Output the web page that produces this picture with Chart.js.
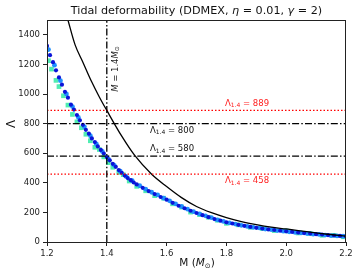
<!DOCTYPE html>
<html>
<head>
<meta charset="utf-8">
<script src="https://cdn.jsdelivr.net/npm/chart.js@4.4.1/dist/chart.umd.min.js"></script>
<style>
  html, body { margin: 0; padding: 0; background: #fff; }
  #wrap { width: 358px; height: 277px; }
</style>
</head>
<body>
<div id="wrap"><canvas id="chart"></canvas></div>
<script>
// Mass grid ticks
const xTicks = [1.2, 1.4, 1.6, 1.8, 2.0, 2.2];
const yTicks = [0, 200, 400, 600, 800, 1000, 1200, 1400];

// Band core (dark blue)
const coreMass = [1.20,1.21,1.22,1.23,1.24,1.25,1.26,1.27,1.28,1.29,1.30,1.31,1.32,1.33,1.34,1.35,1.36,1.37,1.38,1.39,1.40,1.41,1.42,1.43,1.44,1.45,1.46,1.47,1.48,1.49,1.50,1.52,1.54,1.56,1.58,1.60,1.62,1.64,1.66,1.68,1.70,1.72,1.74,1.76,1.78,1.80,1.82,1.84,1.86,1.88,1.90,1.92,1.94,1.96,1.98,2.00,2.02,2.04,2.06,2.08,2.10,2.12,2.14,2.16,2.18,2.20];
const coreLambda = [1325,1262,1215,1160,1112,1063,1015,975,928,895,858,822,792,758,732,700,675,646,622,598,574,552,528,508,486,468,449,432,418,402,389,366,344,324,304,286,265,245,228,211,196,181,168,155,144,133,125,116,109,102,96,91,85,81,76,72,68,64,60,57,53,50,47,44,41,38];

// Band, second set (light blue)
const midMass = [1.205,1.225,1.245,1.265,1.285,1.305,1.325,1.345,1.365,1.385,1.405,1.425,1.445,1.465,1.485,1.51,1.53,1.55,1.57,1.59,1.61,1.63,1.65,1.67,1.69,1.71,1.73,1.75,1.77,1.79,1.81,1.83,1.85,1.87,1.89,1.91,1.93,1.95,1.97,1.99,2.01,2.03,2.05,2.07,2.09,2.11,2.13,2.15,2.17,2.19];
const midLambda = [1300,1195,1090,1000,915,842,778,718,662,612,562,518,478,442,414,380,357,336,318,296,278,258,240,222,205,190,177,165,150,139,129,121,113,105,99,95,87,83,77,73,69,65,61,57,53,51,47,43,41,39];

// Band, outer set (aquamarine)
const outerMass = [1.205,1.215,1.23,1.24,1.255,1.27,1.285,1.30,1.315,1.33,1.345,1.36,1.375,1.39,1.405,1.42,1.44,1.455,1.475,1.50,1.53,1.56,1.59,1.62,1.65,1.68,1.71,1.74,1.77,1.80,1.84,1.88,1.92,1.96,2.00,2.04,2.08,2.12,2.16,2.19];
const outerLambda = [1225,1168,1092,1050,988,925,862,812,772,728,684,640,625,575,536,505,470,455,412,376,346,313,296,258,236,202,185,167,147,126,116,99,91,77,75,61,57,45,45,35];

// Solid black curve
const curveMass = [1.27,1.294,1.32,1.349,1.375,1.40,1.45,1.494,1.55,1.60,1.65,1.70,1.75,1.80,1.85,1.90,1.95,2.00,2.068,2.13,2.20];
const curveLambda = [1500,1332,1215,1084,980,889,715,583,458,375,300,240,198,165,138,117,100,88,70,54,40];

// Reference lines
const refMass = 1.4;
const refLambda = [800, 580];
const boundLambda = [889, 458];

const toXY = (ms, ls) => ms.map((m, i) => ({ x: m, y: ls[i] }));
const hLine = v => [{ x: 1.2, y: v }, { x: 2.2, y: v }];

const dashDot = [7, 2.2, 1.5, 2.2];
const dotted = [1.5, 2];

const datasets = [
  {
    type: 'line', data: toXY(curveMass, curveLambda), borderColor: '#000',
    borderWidth: 1.3, pointRadius: 0, tension: 0.4, cubicInterpolationMode: 'monotone', order: 1
  },
  {
    type: 'line', data: [{ x: refMass, y: 0 }, { x: refMass, y: 1500 }], borderColor: '#000',
    borderWidth: 1.3, borderDash: dashDot, pointRadius: 0, order: 0
  },
  ...refLambda.map(v => ({
    type: 'line', data: hLine(v), borderColor: '#000', borderWidth: 1.3,
    borderDash: dashDot, pointRadius: 0, order: 0
  })),
  ...boundLambda.map(v => ({
    type: 'line', data: hLine(v), borderColor: '#ff0000', borderWidth: 1.2,
    borderDash: dotted, pointRadius: 0, order: 0
  })),
  {
    type: 'scatter', data: toXY(coreMass, coreLambda), backgroundColor: '#0a14d8',
    borderWidth: 0, pointRadius: 2.1, order: 2
  },
  {
    type: 'scatter', data: toXY(midMass, midLambda), backgroundColor: '#1e8fff',
    borderWidth: 0, pointRadius: 2.4, order: 3
  },
  {
    type: 'scatter', data: toXY(outerMass, outerLambda), backgroundColor: 'rgba(60,235,170,0.9)',
    borderWidth: 0, pointRadius: 3.3, pointStyle: 'rect', order: 4
  }
];
datasets.forEach(d => { d.clip = 0; });

// draws a run of text pieces with their own fonts, centred on x
function richText(ctx, parts, x, y) {
  let total = 0;
  parts.forEach(p => { ctx.font = p.font; total += ctx.measureText(p.t).width; });
  let cx = x - total / 2;
  parts.forEach(p => {
    ctx.font = p.font;
    ctx.fillText(p.t, cx, y + (p.dy || 0));
    cx += ctx.measureText(p.t).width;
  });
}

const F = 'DejaVu Sans';
function lambdaLabel(val) {
  return [
    { t: 'Λ', font: `8.5px ${F}` },
    { t: '1.4', font: `6px ${F}`, dy: 2 },
    { t: ' = ' + val, font: `8.5px ${F}` }
  ];
}

const decorations = {
  id: 'decorations',
  afterDraw(chart) {
    const { ctx, chartArea: a, scales: { x, y } } = chart;
    ctx.save();
    ctx.strokeStyle = '#222';
    ctx.lineWidth = 1;
    ctx.strokeRect(a.left + 0.5, a.top + 0.5, a.right - a.left - 1, a.bottom - a.top);

    ctx.textBaseline = 'middle';
    ctx.textAlign = 'left';
    ctx.fillStyle = '#111';
    // title
    richText(ctx, [
      { t: 'Tidal deformability (DDMEX, ', font: `11.2px ${F}` },
      { t: 'η', font: `italic 11.2px ${F}` },
      { t: ' = 0.01, ', font: `11.2px ${F}` },
      { t: 'γ', font: `italic 11.2px ${F}` },
      { t: ' = 2)', font: `11.2px ${F}` }
    ], (a.left + a.right) / 2, 11);

    // x axis title
    richText(ctx, [
      { t: 'M (', font: `10.5px ${F}` },
      { t: 'M', font: `italic 10.5px ${F}` },
      { t: '⊙', font: `7px ${F}`, dy: 3 },
      { t: ')', font: `10.5px ${F}` }
    ], 197, 263);

    // y axis title
    ctx.save();
    ctx.translate(12, 124);
    ctx.rotate(-Math.PI / 2);
    richText(ctx, [{ t: 'Λ', font: `12px ${F}` }], 0, 0);
    ctx.restore();

    // vertical line label
    ctx.save();
    ctx.translate(x.getPixelForValue(refMass) + 9, 69);
    ctx.rotate(-Math.PI / 2);
    ctx.fillStyle = '#222';
    richText(ctx, [
      { t: 'M', font: `italic 8.5px ${F}` },
      { t: ' = 1.4', font: `8.5px ${F}` },
      { t: 'M', font: `italic 8.5px ${F}` },
      { t: '⊙', font: `6px ${F}`, dy: 2 }
    ], 0, 0);
    ctx.restore();

    // horizontal line labels
    ctx.fillStyle = '#111';
    richText(ctx, lambdaLabel(refLambda[0]), 172, y.getPixelForValue(refLambda[0]) + 7);
    richText(ctx, lambdaLabel(refLambda[1]), 172, y.getPixelForValue(refLambda[1]) - 7);
    ctx.fillStyle = '#ff2020';
    richText(ctx, lambdaLabel(boundLambda[0]), 247, y.getPixelForValue(boundLambda[0]) - 7);
    richText(ctx, lambdaLabel(boundLambda[1]), 247, y.getPixelForValue(boundLambda[1]) + 7);
    ctx.restore();
  }
};

const tickFont = { family: F, size: 8.5 };

new Chart(document.getElementById('chart'), {
  data: { datasets },
  options: {
    responsive: true,
    maintainAspectRatio: false,
    animation: false,
    layout: { padding: { top: 20, right: 12, left: 0, bottom: 0 } },
    plugins: { legend: { display: false }, tooltip: { enabled: false }, title: { display: false } },
    scales: {
      x: {
        type: 'linear', min: 1.2, max: 2.2,
        afterBuildTicks: s => { s.ticks = xTicks.map(v => ({ value: v })); },
        afterFit: s => { s.height = 35; },
        grid: { drawOnChartArea: false, drawTicks: true, tickLength: 4, color: '#222' },
        border: { display: false },
        ticks: { font: tickFont, color: '#222', padding: 3, callback: v => v.toFixed(1) }
      },
      y: {
        type: 'linear', min: 0, max: 1500,
        afterBuildTicks: s => { s.ticks = yTicks.map(v => ({ value: v })); },
        afterFit: s => { s.width = 47; },
        grid: { drawOnChartArea: false, drawTicks: true, tickLength: 4, color: '#222' },
        border: { display: false },
        ticks: { font: tickFont, color: '#222', padding: 3, callback: v => String(v) }
      }
    }
  },
  plugins: [decorations]
});
</script>
</body>
</html>
